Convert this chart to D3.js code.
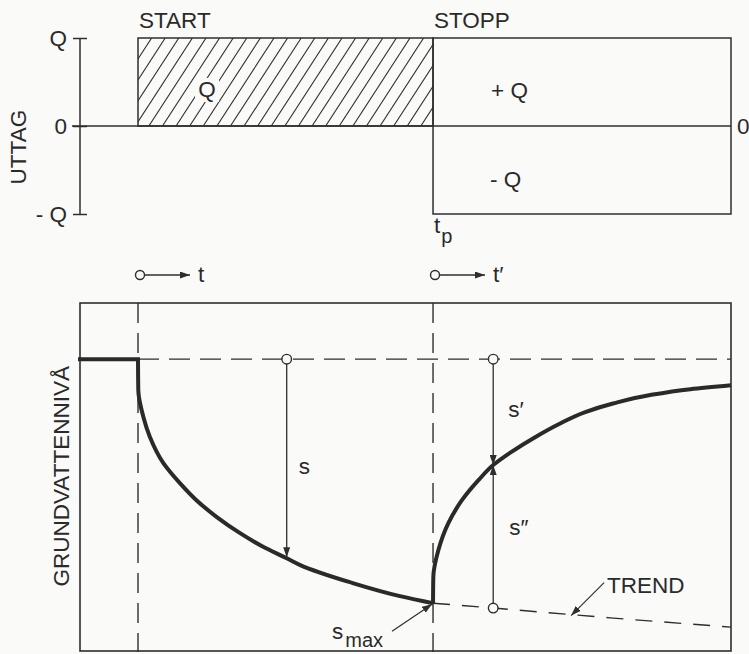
<!DOCTYPE html>
<html>
<head>
<meta charset="utf-8">
<script src="https://cdn.jsdelivr.net/npm/d3@7"></script>
<style>
  body { margin: 0; background: #fafaf8; }
  text { font-family: "Liberation Sans", Arial, sans-serif; fill: #2a2a2a; }
</style>
</head>
<body>
<svg id="chart" width="749" height="654"></svg>
<script>
// Pumping schedule: time axis in arbitrary units, pumping starts at 0, stops at tp
const phaseLabels = ["START", "STOPP"];
const phaseTimes = [0, 5];
const timeDomain = [-0.983, 10.05];

// Withdrawal (UTTAG) axis
const uttagValues = [1, 0, -1];
const uttagLabels = ["Q", "0", "- Q"];

// Drawdown s during pumping (positive downward); first point is the undisturbed level
const pumpT = [-0.983, 0, 0.005, 0.09, 0.2, 0.43, 0.71, 0.99, 1.33, 1.73, 2.12, 2.52, 2.75, 3.59, 4.44, 5.0];
const pumpS = [0, 0, 1.27, 2.36, 3.18, 4.26, 5.08, 5.78, 6.46, 7.13, 7.69, 8.16, 8.44, 9.14, 9.71, 10.0];

// Residual drawdown after the pump is stopped
const recT = [5.0, 5.005, 5.09, 5.26, 5.49, 5.77, 6.02, 6.33, 6.73, 7.12, 7.58, 8.05, 8.68, 9.36, 10.05];
const recS = [10.0, 8.92, 7.83, 6.72, 5.78, 4.96, 4.34, 3.80, 3.20, 2.68, 2.17, 1.82, 1.47, 1.23, 1.07];

// Extrapolated drawdown trend after stop
const trendT = [5.0, 6.02, 8.0, 10.05];
const trendS = [10.0, 10.2, 10.6, 10.98];

// Observation times for s, s' and s''
const tObs = 2.52;
const tObsPrime = 6.02;
const tTrendNote = 7.34;

const INK = "#2e2e2e";
const FS = 22.5;
const svg = d3.select("#chart");

const x = d3.scaleLinear().domain(timeDomain).range([80, 731]);
const yTop = d3.scaleLinear().domain([-1, 1]).range([214, 38]);
const yLow = d3.scaleLinear().domain([-2.3, 12.0]).range([303, 652]);

const zip = (ts, ss) => ts.map((t, i) => ({ t, s: ss[i] }));
const pumpData = zip(pumpT, pumpS);
const recData = zip(recT, recS);
const trendData = zip(trendT, trendS);

function valueAt(ts, ss, t) {
  const i = Math.max(1, d3.bisectLeft(ts, t));
  const t0 = ts[i - 1], t1 = ts[i];
  const k = t1 === t0 ? 0 : (t - t0) / (t1 - t0);
  return ss[i - 1] + k * (ss[i] - ss[i - 1]);
}

// arrow heads
const defs = svg.append("defs");
defs.append("marker")
  .attr("id", "head")
  .attr("markerUnits", "userSpaceOnUse")
  .attr("viewBox", "0 0 10 7")
  .attr("markerWidth", 10).attr("markerHeight", 7)
  .attr("refX", 10).attr("refY", 3.5)
  .attr("orient", "auto")
  .append("path").attr("d", "M0,0 L10,3.5 L0,7 Z").attr("fill", INK);

defs.append("clipPath").attr("id", "hatchClip")
  .append("rect")
  .attr("x", x(phaseTimes[0])).attr("y", yTop(1))
  .attr("width", x(phaseTimes[1]) - x(phaseTimes[0]))
  .attr("height", yTop(0) - yTop(1));

// ---------- upper panel: withdrawal ----------
const upper = svg.append("g");

// hatching for the pumping period
const hx0 = x(phaseTimes[0]), hx1 = x(phaseTimes[1]);
const hy0 = yTop(1), hy1 = yTop(0);
const shift = (hy1 - hy0) / Math.tan(57 * Math.PI / 180);
upper.append("g").attr("clip-path", "url(#hatchClip)")
  .selectAll("line")
  .data(d3.range(hx0 - shift, hx1 + 14, 13.6))
  .join("line")
  .attr("x1", d => d).attr("y1", hy1)
  .attr("x2", d => d + shift).attr("y2", hy0)
  .attr("stroke", INK).attr("stroke-width", 1.1);

// hatched rectangle outline
upper.append("rect")
  .attr("x", hx0).attr("y", hy0)
  .attr("width", hx1 - hx0).attr("height", hy1 - hy0)
  .attr("fill", "none").attr("stroke", INK).attr("stroke-width", 1.5);

// box after stop (+Q / -Q)
upper.append("rect")
  .attr("x", x(phaseTimes[1])).attr("y", yTop(1))
  .attr("width", x(timeDomain[1]) - x(phaseTimes[1]))
  .attr("height", yTop(-1) - yTop(1))
  .attr("fill", "none").attr("stroke", INK).attr("stroke-width", 1.5);

// zero line
upper.append("line")
  .attr("x1", x(timeDomain[0]) - 8).attr("x2", x(timeDomain[1]))
  .attr("y1", yTop(0)).attr("y2", yTop(0))
  .attr("stroke", INK).attr("stroke-width", 1.5);

// withdrawal axis
const axis = upper.append("g")
  .attr("transform", `translate(${x(timeDomain[0])},0)`)
  .call(d3.axisLeft(yTop).tickValues(uttagValues)
    .tickFormat((d, i) => uttagLabels[i]).tickSize(7).tickPadding(6));
axis.select(".domain").attr("d", `M0,${yTop(1)}V${yTop(-1)}`)
  .attr("stroke", INK).attr("stroke-width", 1.5);
axis.selectAll(".tick line").attr("x1", -7).attr("x2", 7)
  .attr("stroke", INK).attr("stroke-width", 1.5);
axis.selectAll(".tick text")
  .attr("font-size", FS).attr("font-family", "Liberation Sans, Arial, sans-serif")
  .attr("fill", "#2a2a2a");

upper.append("text").attr("x", x(timeDomain[1]) + 6).attr("y", yTop(0) + 8)
  .attr("font-size", FS).text("0");

upper.append("text")
  .attr("transform", `translate(26,${yTop(-0.24)}) rotate(-90)`)
  .attr("text-anchor", "middle").attr("font-size", FS).text("UTTAG");

upper.selectAll(".phase").data(phaseLabels).join("text")
  .attr("class", "phase")
  .attr("x", (d, i) => x(phaseTimes[i]) + 1).attr("y", 28)
  .attr("font-size", FS).text(d => d);

// Q inside hatching on a clear patch
const qx = x(1.17), qy = yTop(0.33);
upper.append("rect").attr("x", qx - 12).attr("y", qy - 19).attr("width", 24).attr("height", 24)
  .attr("fill", "#fafaf8");
upper.append("text").attr("x", qx).attr("y", qy).attr("text-anchor", "middle")
  .attr("font-size", FS).text("Q");

upper.append("text").attr("x", x(phaseTimes[1]) + 58).attr("y", yTop(0.32))
  .attr("font-size", FS).text("+ Q");
upper.append("text").attr("x", x(phaseTimes[1]) + 57).attr("y", yTop(-0.69))
  .attr("font-size", FS).text("- Q");

const tp = upper.append("text").attr("x", x(phaseTimes[1]) + 1).attr("y", 233).attr("font-size", FS);
tp.append("tspan").text("t");
tp.append("tspan").attr("dy", 10).attr("dx", 1).attr("font-size", 20).text("p");

// ---------- time origins ----------
const origins = [{ t: phaseTimes[0], label: "t" }, { t: phaseTimes[1], label: "t\u2032" }];
const og = svg.append("g").selectAll("g").data(origins).join("g")
  .attr("transform", d => `translate(${x(d.t) + 2},275)`);
og.append("line").attr("x1", 4.5).attr("x2", 50).attr("y1", 0).attr("y2", 0)
  .attr("stroke", INK).attr("stroke-width", 1.4).attr("marker-end", "url(#head)");
og.append("circle").attr("r", 4.5).attr("fill", "#fafaf8")
  .attr("stroke", INK).attr("stroke-width", 1.4);
og.append("text").attr("x", 58).attr("y", 7).attr("font-size", FS).text(d => d.label);

// ---------- lower panel: groundwater level ----------
const low = svg.append("g");

low.append("rect")
  .attr("x", x(timeDomain[0])).attr("y", yLow(-2.3))
  .attr("width", x(timeDomain[1]) - x(timeDomain[0]))
  .attr("height", yLow(12.0) - yLow(-2.3) - 1)
  .attr("fill", "none").attr("stroke", INK).attr("stroke-width", 1.6);

// dashed verticals at start / stop
low.selectAll(".vdash").data(phaseTimes).join("line")
  .attr("class", "vdash")
  .attr("x1", d => x(d)).attr("x2", d => x(d))
  .attr("y1", yLow(-2.3)).attr("y2", yLow(12.0))
  .attr("stroke", INK).attr("stroke-width", 1.4).attr("stroke-dasharray", "20,10");

// static level (dashed)
low.append("line")
  .attr("x1", x(0)).attr("x2", x(timeDomain[1]))
  .attr("y1", yLow(0)).attr("y2", yLow(0))
  .attr("stroke", INK).attr("stroke-width", 1.4).attr("stroke-dasharray", "21,10");

// trend (dashed)
const line = d3.line().x(d => x(d.t)).y(d => yLow(d.s)).curve(d3.curveMonotoneX);
low.append("path").datum(trendData).attr("d", line)
  .attr("fill", "none").attr("stroke", INK).attr("stroke-width", 1.4)
  .attr("stroke-dasharray", "17,12");

// measurement arrows
const sObs = valueAt(pumpT, pumpS, tObs);
const sPrime = valueAt(recT, recS, tObsPrime);
const sTrend = valueAt(trendT, trendS, tObsPrime);

low.append("line")
  .attr("x1", x(tObs)).attr("x2", x(tObs))
  .attr("y1", yLow(0) + 4.5).attr("y2", yLow(sObs) - 1)
  .attr("stroke", INK).attr("stroke-width", 1.3).attr("marker-end", "url(#head)");
low.append("line")
  .attr("x1", x(tObsPrime)).attr("x2", x(tObsPrime))
  .attr("y1", yLow(0) + 4.5).attr("y2", yLow(sPrime))
  .attr("stroke", INK).attr("stroke-width", 1.3).attr("marker-end", "url(#head)");
low.append("line")
  .attr("x1", x(tObsPrime)).attr("x2", x(tObsPrime))
  .attr("y1", yLow(sTrend) - 4.5).attr("y2", yLow(sPrime))
  .attr("stroke", INK).attr("stroke-width", 1.3).attr("marker-end", "url(#head)");

// drawdown and recovery curves (thick); the curves are monotone in level,
// so they are interpolated along the level axis to keep the vertical start
const flat = d3.line().x(d => x(d.t)).y(d => yLow(d.s));
const curveY = d3.line().x(d => x(d.t)).y(d => yLow(d.s)).curve(d3.curveMonotoneY);
low.append("path").datum(pumpData.slice(0, 2)).attr("d", flat)
  .attr("fill", "none").attr("stroke", "#2a2a2a").attr("stroke-width", 4)
  .attr("stroke-linecap", "square");
low.append("path").datum(pumpData.slice(1)).attr("d", curveY)
  .attr("fill", "none").attr("stroke", "#2a2a2a").attr("stroke-width", 4);
low.append("path").datum(recData).attr("d", curveY)
  .attr("fill", "none").attr("stroke", "#2a2a2a").attr("stroke-width", 4);

// observation circles
const circles = [
  { t: tObs, s: 0 }, { t: tObsPrime, s: 0 }, { t: tObsPrime, s: sTrend }
];
low.selectAll(".obs").data(circles).join("circle")
  .attr("class", "obs")
  .attr("cx", d => x(d.t)).attr("cy", d => yLow(d.s)).attr("r", 4.8)
  .attr("fill", "#fafaf8").attr("stroke", INK).attr("stroke-width", 1.4);

// labels
low.append("text").attr("x", x(tObs) + 12).attr("y", yLow(4.7)).attr("font-size", FS).text("s");
low.append("text").attr("x", x(tObsPrime) + 15).attr("y", yLow(2.37)).attr("font-size", FS).text("s\u2032");
low.append("text").attr("x", x(tObsPrime) + 16).attr("y", yLow(7.2)).attr("font-size", FS).text("s\u2033");

// s_max annotation
const smaxTip = { x: x(phaseTimes[1]) - 1, y: yLow(pumpS[pumpS.length - 1]) + 1 };
low.append("line")
  .attr("x1", smaxTip.x - 40).attr("y1", smaxTip.y + 27)
  .attr("x2", smaxTip.x).attr("y2", smaxTip.y)
  .attr("stroke", INK).attr("stroke-width", 1.2).attr("marker-end", "url(#head)");
const smax = low.append("text").attr("x", smaxTip.x - 100).attr("y", smaxTip.y + 35).attr("font-size", FS);
smax.append("tspan").text("s");
smax.append("tspan").attr("dy", 8).attr("dx", 2).attr("font-size", 20).text("max");

// TREND annotation
const trendTip = { x: x(tTrendNote), y: yLow(valueAt(trendT, trendS, tTrendNote)) + 1 };
low.append("line")
  .attr("x1", trendTip.x + 33).attr("y1", trendTip.y - 33)
  .attr("x2", trendTip.x).attr("y2", trendTip.y)
  .attr("stroke", INK).attr("stroke-width", 1.2).attr("marker-end", "url(#head)");
low.append("text").attr("x", trendTip.x + 36).attr("y", trendTip.y - 23)
  .attr("font-size", FS).text("TREND");

// y label
low.append("text")
  .attr("transform", `translate(69,${yLow(4.8)}) rotate(-90)`)
  .attr("text-anchor", "middle").attr("font-size", FS).text("GRUNDVATTENNIVÅ");
</script>
</body>
</html>
